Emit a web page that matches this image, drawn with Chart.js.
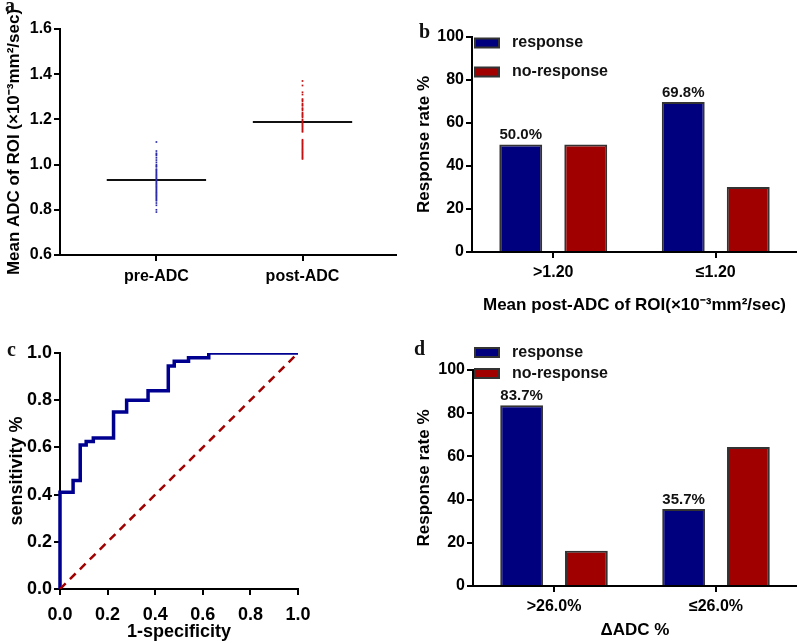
<!DOCTYPE html>
<html>
<head>
<meta charset="utf-8">
<script src="https://cdn.jsdelivr.net/npm/chart.js@4.4.1/dist/chart.umd.min.js"></script>
<style>
  body { margin: 0; background: #fff; width: 797px; height: 643px; position: relative; overflow: hidden; }
  canvas { position: absolute; }
  .lbl { position: absolute; font: bold 20px "Liberation Serif", "Times New Roman", serif; color: #111; line-height: 1; }
</style>
</head>
<body>
<canvas id="cA" width="400" height="320" style="left:0;top:0"></canvas>
<canvas id="cB" width="397" height="320" style="left:400px;top:0"></canvas>
<canvas id="cC" width="400" height="323" style="left:0;top:320px"></canvas>
<canvas id="cD" width="397" height="323" style="left:400px;top:320px"></canvas>
<div class="lbl" style="left:5px;top:-5px">a</div>
<div class="lbl" style="left:419px;top:21px">b</div>
<div class="lbl" style="left:7px;top:339px">c</div>
<div class="lbl" style="left:414px;top:338px">d</div>
<script>
// Panel a - mean ADC of ROI before / after
const groupLabels = ["pre-ADC", "post-ADC"];
const preADC = [0.79, 0.80, 0.82, 0.83, 0.84, 0.845, 0.85, 0.855, 0.86, 0.865, 0.87, 0.875, 0.88,
  0.885, 0.89, 0.895, 0.90, 0.905, 0.91, 0.915, 0.92, 0.925, 0.93, 0.935, 0.94, 0.945, 0.95, 0.955,
  0.96, 0.965, 0.97, 0.975, 0.98, 0.99, 0.995, 1.00, 1.01, 1.02, 1.03, 1.04, 1.045, 1.05, 1.06, 1.10];
const postADC = [1.025, 1.03, 1.035, 1.04, 1.045, 1.05, 1.055, 1.06, 1.065, 1.07, 1.075, 1.08, 1.085,
  1.09, 1.095, 1.10, 1.105, 1.11, 1.145, 1.15, 1.155, 1.16, 1.165, 1.17, 1.175, 1.18, 1.185, 1.19,
  1.195, 1.20, 1.21, 1.215, 1.22, 1.225, 1.23, 1.24, 1.245, 1.25, 1.26, 1.265, 1.27, 1.28, 1.285,
  1.29, 1.31, 1.32, 1.35, 1.37];
const groupMeans = [0.932, 1.188];

// Panel b - response by post-ADC
const postCats = [">1.20", "≤1.20"];
const postResp = [50.0, 69.8];
const postNoResp = [50.0, 30.2];

// Panel c - ROC curve
const rocFpr = [0, 0, 0.055, 0.085, 0.11, 0.14, 0.225, 0.28, 0.37, 0.455, 0.48, 0.54, 0.625, 1];
const rocTpr = [0, 0.41, 0.46, 0.61, 0.625, 0.64, 0.75, 0.80, 0.84, 0.945, 0.965, 0.98, 1, 1];

// Panel d - response by delta ADC
const deltaCats = [">26.0%", "≤26.0%"];
const deltaResp = [83.7, 35.7];
const deltaNoResp = [16.3, 64.3];

const seriesNames = ["response", "no-response"];
const BLUE = "#00007f";
const RED = "#a00000";
const FONT = "'Liberation Sans', Arial, sans-serif";

Chart.defaults.font.family = FONT;
Chart.defaults.color = "#000";
Chart.defaults.animation = false;

const tickFont = (s) => ({ family: FONT, size: s || 16, weight: "bold" });
const axisGrid = { display: true, drawOnChartArea: false, color: "#000", lineWidth: 2, tickLength: 6 };
const axisBorder = { display: true, color: "#000", width: 2 };

// legend boxes + bar value labels
const boxLegend = {
  id: "boxLegend",
  afterDraw(chart, args, opts) {
    if (!opts.rows) return;
    const ctx = chart.ctx;
    ctx.save();
    chart.data.datasets.forEach((ds, i) => {
      const y = opts.rows[i];
      ctx.fillStyle = ds.backgroundColor;
      ctx.fillRect(opts.x, y - 4.5, 24, 9);
      ctx.strokeStyle = "#333";
      ctx.lineWidth = 2;
      ctx.strokeRect(opts.x, y - 4.5, 24, 9);
      ctx.fillStyle = "#111";
      ctx.font = "bold 16px " + FONT;
      ctx.textBaseline = "middle";
      ctx.fillText(ds.label, opts.x + 37, y);
    });
    ctx.restore();
  }
};
const valueLabels = {
  id: "valueLabels",
  afterDatasetsDraw(chart, args, opts) {
    if (!opts.show) return;
    const ctx = chart.ctx;
    const meta = chart.getDatasetMeta(0);
    ctx.save();
    ctx.font = "bold 15px " + FONT;
    ctx.fillStyle = "#111";
    ctx.textAlign = "center";
    ctx.textBaseline = "bottom";
    meta.data.forEach((bar, i) => {
      ctx.fillText(chart.data.datasets[0].data[i].toFixed(1) + "%", bar.x, bar.y - 2);
    });
    ctx.restore();
  }
};

// ---- a
const meanHalf = 0.34;
new Chart(document.getElementById("cA"), {
  type: "scatter",
  data: {
    datasets: [
      { data: preADC.map(v => ({ x: 1, y: v })), pointStyle: "rect", pointRadius: 1.2, backgroundColor: "#2a2aa8", borderWidth: 0 },
      { data: postADC.map(v => ({ x: 2, y: v })), pointStyle: "rect", pointRadius: 1.2, backgroundColor: "#c01010", borderWidth: 0 },
      { data: groupMeans.slice(0, 1).flatMap(m => [{ x: 1 - meanHalf, y: m }, { x: 1 + meanHalf, y: m }]), showLine: true, borderColor: "#111", borderWidth: 2, pointRadius: 0 },
      { data: groupMeans.slice(1).flatMap(m => [{ x: 2 - meanHalf, y: m }, { x: 2 + meanHalf, y: m }]), showLine: true, borderColor: "#111", borderWidth: 2, pointRadius: 0 }
    ]
  },
  options: {
    responsive: false,
    layout: { padding: { left: 0, right: 4, top: 29, bottom: 0 } },
    plugins: { legend: { display: false }, tooltip: { enabled: false } },
    scales: {
      x: {
        type: "linear", min: 0.34, max: 2.64,
        afterBuildTicks: s => { s.ticks = [{ value: 1 }, { value: 2 }]; },
        afterFit: s => { s.height = 65; },
        ticks: { font: tickFont(16), padding: 6, callback: v => groupLabels[Math.round(v) - 1] },
        grid: axisGrid, border: axisBorder
      },
      y: {
        min: 0.6, max: 1.6,
        afterFit: s => { s.width = 60; },
        ticks: { stepSize: 0.2, font: tickFont(16), padding: 2, callback: v => v.toFixed(1) },
        grid: axisGrid, border: axisBorder,
        title: { display: true, text: "Mean ADC of ROI (×10⁻³mm²/sec)", font: tickFont(17), padding: { top: 4, bottom: 0 } }
      }
    }
  }
});

// ---- bar panels b and d
function barChart(id, cats, resp, noResp, xTitle, pad, yWidth, xHeight, legend) {
  return new Chart(document.getElementById(id), {
    type: "bar",
    data: {
      labels: cats,
      datasets: [
        { label: seriesNames[0], data: resp, backgroundColor: BLUE, borderColor: "#333", borderWidth: 2 },
        { label: seriesNames[1], data: noResp, backgroundColor: RED, borderColor: "#333", borderWidth: 2 }
      ]
    },
    options: {
      responsive: false,
      categoryPercentage: 0.8,
      barPercentage: 0.66,
      layout: { padding: pad },
      plugins: {
        legend: { display: false }, tooltip: { enabled: false },
        boxLegend: legend, valueLabels: { show: true }
      },
      scales: {
        x: {
          afterFit: s => { s.height = xHeight; },
          ticks: { font: tickFont(16), padding: 5 },
          grid: Object.assign({ offset: false }, axisGrid), border: axisBorder,
          title: { display: true, text: xTitle, font: tickFont(17), padding: { top: 0, bottom: 2 } }
        },
        y: {
          min: 0, max: 100,
          afterFit: s => { s.width = yWidth; },
          ticks: { stepSize: 20, font: tickFont(16), padding: 2 },
          grid: axisGrid, border: axisBorder,
          title: { display: true, text: "Response rate %", font: tickFont(17), padding: { top: 4, bottom: 0 } }
        }
      }
    },
    plugins: [boxLegend, valueLabels]
  });
}

barChart("cB", postCats, postResp, postNoResp, "Mean post-ADC of ROI(×10⁻³mm²/sec)",
  { left: 10, right: 0, top: 37, bottom: 2 }, 62, 66, { x: 75, rows: [43, 72] });
barChart("cD", deltaCats, deltaResp, deltaNoResp, "ΔADC %",
  { left: 10, right: 0, top: 50, bottom: 0 }, 63, 57, { x: 75, rows: [32.5, 53.5] });

// ---- c
new Chart(document.getElementById("cC"), {
  type: "line",
  data: {
    datasets: [
      { data: [{ x: 0, y: 0 }, { x: 1, y: 1 }], borderColor: RED, borderWidth: 2.5, borderDash: [8, 6], pointRadius: 0 },
      { data: rocFpr.map((x, i) => ({ x: x, y: rocTpr[i] })), stepped: "before", borderColor: "#000090", borderWidth: 3.5, pointRadius: 0, clip: { left: 3, top: 0, right: 3, bottom: 3 } }
    ]
  },
  options: {
    responsive: false,
    layout: { padding: { left: 2, right: 102, top: 33, bottom: 0 } },
    plugins: { legend: { display: false }, tooltip: { enabled: false } },
    scales: {
      x: {
        type: "linear", min: 0, max: 1,
        afterFit: s => { s.height = 54; },
        ticks: { stepSize: 0.2, font: tickFont(18), padding: 9, callback: v => v.toFixed(1) },
        grid: axisGrid, border: axisBorder,
        title: { display: true, text: "1-specificity", font: tickFont(18), padding: { top: 0, bottom: 0 } }
      },
      y: {
        min: 0, max: 1,
        afterFit: s => { s.width = 58; },
        ticks: { stepSize: 0.2, font: tickFont(18), padding: 2, callback: v => v.toFixed(1) },
        grid: axisGrid, border: axisBorder,
        title: { display: true, text: "sensitivity %", font: tickFont(18), padding: { top: 4, bottom: 0 } }
      }
    }
  }
});
</script>
</body>
</html>
